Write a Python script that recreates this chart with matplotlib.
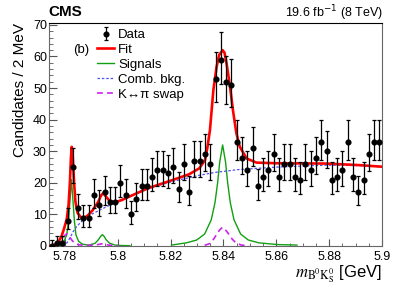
import numpy as np
import matplotlib
matplotlib.use("Agg")
import matplotlib.pyplot as plt
from matplotlib.lines import Line2D
from matplotlib.ticker import MultipleLocator, FuncFormatter
from math import exp, log, lgamma

plt.rcParams['font.family'] = ['Liberation Sans', 'DejaVu Sans']

# data: 2 MeV bins from 5.774 to 5.900 GeV
bin_lo = 5.774
bin_w = 0.002
counts = [0, 1, 1, 8, 25, 12, 9, 9, 16, 13, 17, 14, 14, 20, 16, 10,
          15, 19, 19, 22, 24, 24, 23, 25, 18, 26, 17, 27, 27, 29, 26,
          53, 59, 52, 51, 33, 28, 24, 31, 19, 22, 24, 29, 22, 26, 26, 22,
          21, 26, 24, 28, 33, 30, 21, 22, 24, 33, 22, 17, 21, 29, 33, 33]

# fit components (mass in GeV, candidates / 2 MeV)
fit_m = [5.7746, 5.7763, 5.7777, 5.7787, 5.7797, 5.7807, 5.7814, 5.7819, 5.7823, 5.7826,
         5.7830, 5.7835, 5.7840, 5.7848, 5.7861, 5.7871, 5.7886, 5.7905, 5.7925, 5.7937,
         5.7945, 5.7954, 5.7969, 5.7989, 5.8014, 5.8112, 5.8211, 5.8270, 5.8309, 5.8330,
         5.8339, 5.8349, 5.8362, 5.8374, 5.8384, 5.8397, 5.8404, 5.8412, 5.8425, 5.8436,
         5.8449, 5.8462, 5.8488, 5.8525, 5.8601, 5.8790, 5.8915, 5.9000]
fit_y = [0.0, 0.5, 1.5, 3.0, 5.5, 8.5, 13.0, 20.0, 28.0, 31.4,
         28.0, 20.0, 14.0, 10.5, 9.0, 8.8, 9.6, 11.3, 13.8, 16.0,
         16.7, 15.8, 14.3, 13.8, 14.5, 18.2, 21.0, 22.7, 24.6, 27.2,
         31.0, 36.7, 49.4, 56.7, 60.5, 62.0, 61.2, 57.8, 50.4, 43.0,
         35.7, 31.4, 27.7, 26.4, 26.2, 26.1, 25.6, 25.1]

bkg_m = [5.7793, 5.7802, 5.7812, 5.7822, 5.7831, 5.7846, 5.7866, 5.7895, 5.7935, 5.7984,
         5.8024, 5.8082, 5.8146, 5.8231, 5.8309, 5.8368, 5.8457, 5.8605, 5.8792, 5.8900, 5.9000]
bkg_y = [0.0, 0.3, 1.5, 3.0, 4.5, 6.3, 8.0, 9.8, 11.5, 13.5,
         15.1, 17.0, 19.0, 20.9, 22.4, 23.3, 24.2, 25.0, 25.6, 25.5, 25.1]

# signals: low mass part (two peaks) and the main peak
sig1_m = [5.7777, 5.7797, 5.7807, 5.7814, 5.7819, 5.7825, 5.7831, 5.7836, 5.7842, 5.7852,
          5.7866, 5.7886, 5.7895, 5.7915, 5.7927, 5.7935, 5.7942, 5.7949, 5.7956, 5.7969,
          5.7989, 5.8014, 5.8046]
sig1_y = [0.5, 1.5, 3.5, 8.0, 14.0, 21.0, 14.0, 8.0, 3.5, 1.5,
          0.6, 0.3, 0.3, 0.9, 2.0, 3.0, 3.6, 3.0, 2.0, 0.9,
          0.3, 0.15, 0.1]
sig2_m = [5.8204, 5.8260, 5.8299, 5.8329, 5.8354, 5.8368, 5.8378, 5.8386, 5.8397, 5.8408,
          5.8416, 5.8426, 5.8440, 5.8465, 5.8494, 5.8534, 5.8605, 5.8678]
sig2_y = [0.3, 1.0, 1.9, 3.8, 8.3, 13.7, 20.0, 26.6, 32.0, 26.6,
          20.0, 13.7, 8.3, 3.8, 1.9, 1.0, 0.45, 0.3]

# K <-> pi swap component
swap1_m = [5.7772, 5.7787, 5.7799, 5.7807, 5.7817, 5.7827, 5.7836, 5.7851, 5.7876, 5.7915,
           5.7940, 5.7964, 5.8004]
swap1_y = [0.2, 1.5, 3.3, 3.9, 3.0, 1.8, 1.0, 0.4, 0.2, 0.3,
           0.7, 0.3, 0.1]
swap2_m = [5.8329, 5.8349, 5.8364, 5.8378, 5.8388, 5.8397, 5.8406, 5.8418, 5.8432, 5.8447,
           5.8467, 5.8496]
swap2_y = [0.2, 0.8, 2.3, 4.2, 5.3, 5.9, 5.3, 4.0, 2.3, 1.0,
           0.3, 0.1]


def pois_cdf(n, lam):
    s = 0.0
    for k in range(n + 1):
        s += exp(-lam + k * log(lam) - lgamma(k + 1))
    return s


def garwood(n, a=0.1587):
    # central 68% poisson interval
    lo_, hi_ = max(n, 1e-6), n + 10 * (np.sqrt(n) + 2)
    for _ in range(60):
        mid = 0.5 * (lo_ + hi_)
        if pois_cdf(n, mid) > a:
            lo_ = mid
        else:
            hi_ = mid
    up = 0.5 * (lo_ + hi_)
    if n == 0:
        return 0.0, up
    lo_, hi_ = 1e-9, n
    for _ in range(60):
        mid = 0.5 * (lo_ + hi_)
        if 1 - pois_cdf(n - 1, mid) < a:
            lo_ = mid
        else:
            hi_ = mid
    return 0.5 * (lo_ + hi_), up


centers = bin_lo + bin_w * (np.arange(len(counts)) + 0.5)
n = np.array(counts)
err_lo = []
err_hi = []
for c in counts:
    l, u = garwood(c)
    err_lo.append(c - l)
    err_hi.append(u - c)

fig = plt.figure(figsize=(3.99, 2.86), dpi=100)
ax = fig.add_axes([49 / 399, 40 / 286, 333 / 399, 223.3 / 286])

ax.plot(sig1_m, sig1_y, color='#11a011', lw=1.0, zorder=2)
ax.plot(sig2_m, sig2_y, color='#11a011', lw=1.0, zorder=2)
ax.plot(swap1_m, swap1_y, color='#cc22ee', lw=1.2, ls=(0, (3.5, 2.5)), zorder=2)
ax.plot(swap2_m, swap2_y, color='#cc22ee', lw=1.2, ls=(0, (3.5, 2.5)), zorder=2)
ax.plot(bkg_m, bkg_y, color='#5050ee', lw=0.9, ls=(0, (2, 1.5)), zorder=2)
ax.plot(fit_m, fit_y, color='#ff0000', lw=1.9, zorder=3)
eb = ax.errorbar(centers, n, yerr=[err_lo, err_hi], fmt='o', color='black', ms=3.4,
                 elinewidth=0.9, capsize=1.3, capthick=0.9, zorder=4, clip_on=True)

ax.set_xlim(5.774, 5.9)
ax.set_ylim(0, 70.7)
ax.xaxis.set_major_locator(MultipleLocator(0.02))
ax.xaxis.set_minor_locator(MultipleLocator(0.005))
ax.yaxis.set_major_locator(MultipleLocator(10))
ax.yaxis.set_minor_locator(MultipleLocator(2))
ax.xaxis.set_major_formatter(FuncFormatter(lambda v, p: '%g' % round(v, 3)))
ax.tick_params(which='both', direction='in', top=False, right=False, labelsize=9, color='#555555')
ax.tick_params(axis='y', which='major', length=5.8, pad=1.5)
ax.tick_params(axis='y', which='minor', length=2.9)
ax.tick_params(axis='x', which='major', length=5.0, pad=3.5)
ax.tick_params(axis='x', which='minor', length=2.5)
for s in ['left', 'bottom', 'right']:
    ax.spines[s].set_color('#666666')
ax.spines['top'].set_color('black')

ax.set_ylabel('Candidates / 2 MeV', fontsize=11, loc='top', labelpad=4)
ax.set_xlabel(r'$m_{\mathrm{B^0K^0_S}}$ [GeV]', fontsize=12, loc='right', labelpad=0,
              math_fontfamily='stix')

fig.text(48 / 399, 1 - 12.5 / 286, 'CMS', fontsize=11, fontweight='bold', ha='left', va='center')
fig.text(383 / 399, 1 - 13 / 286, r'19.6 fb$^{-1}$ (8 TeV)', fontsize=9, ha='right', va='center')
fig.text(73 / 399, 1 - 49.5 / 286, '(b)', fontsize=9.5, ha='left', va='center')

handles = [eb,
           Line2D([], [], color='#ff0000', lw=1.9),
           Line2D([], [], color='#11a011', lw=1.0),
           Line2D([], [], color='#5050ee', lw=0.9, ls=(0, (2, 1.5))),
           Line2D([], [], color='#cc22ee', lw=1.2, ls=(0, (3.5, 2.5)))]
labels = ['Data', 'Fit', 'Signals', 'Comb. bkg.', 'K\u2194\u03c0 swap']
fig.legend(handles, labels, loc='upper left', bbox_to_anchor=(97 / 399, 1 - 29 / 286),
           frameon=False, fontsize=9.5, handlelength=1.3, handletextpad=0.3,
           labelspacing=0.2, borderpad=0, borderaxespad=0)

fig.savefig('out.png', dpi=100)
